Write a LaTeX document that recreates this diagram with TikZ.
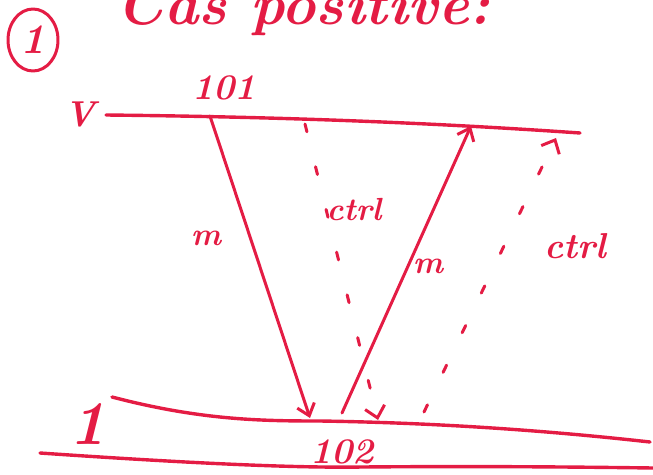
\documentclass[tikz,border=0pt]{standalone}
\usetikzlibrary{arrows.meta,shapes.geometric}
\definecolor{ink}{RGB}{228,28,68}
\begin{document}
\begin{tikzpicture}[x=1pt,y=-1pt, line cap=round, line join=round,
  pen/.style={draw=ink, line width=3.4pt},
  msg/.style={draw=ink, line width=3pt, -{Straight Barb[length=11pt,width=18pt,line width=3pt]}},
  ctrlarrow/.style={draw=ink, line width=3pt, dash pattern=on 8pt off 36pt, -{Straight Barb[length=11pt,width=20pt,line width=3pt]}},
  lbl/.style={text=ink, inner sep=0pt, font=\bfseries\itshape\fontsize{36}{36}\selectfont},
  small/.style={text=ink, inner sep=0pt, font=\bfseries\itshape\fontsize{32}{32}\selectfont}]
\useasboundingbox (0,0) rectangle (653,474);
\clip (0,0) rectangle (653,474);
% title (cut at top, as in the reference)
\node[text=ink, anchor=base west, inner sep=0pt, font=\bfseries\itshape\fontsize{58}{58}\selectfont] (title) at (116,24) {Cas positive:};
% circled 1
\node[draw=ink, line width=3pt, ellipse, minimum width=50pt, minimum height=62pt, inner sep=0pt, text=ink, font=\bfseries\itshape\fontsize{42}{42}\selectfont] (num) at (33,40) {1};
% lines
\coordinate (tl) at (106,115);
\coordinate (tr) at (580,133);
\draw[pen] (tl) .. controls (300,117) and (450,124) .. (tr);
\coordinate (b1l) at (112,397);
\coordinate (b1r) at (650,442);
\draw[pen] (b1l) .. controls (200,420) and (260,421) .. (320,421) .. controls (450,423) and (560,432) .. (b1r);
\coordinate (b2l) at (40,453);
\coordinate (b2r) at (653,468);
\draw[pen] (b2l) .. controls (200,464) and (300,468) .. (362,467) .. controls (480,466) and (580,467) .. (b2r);
% labels
\node[lbl] (V) at (80,114) {V};
\node[lbl, font=\bfseries\itshape\fontsize{62}{62}\selectfont] (one) at (88,424) {1};
\node[lbl] (p1) at (224,88) {101};
\node[lbl] (p2) at (342,452) {102};
% endpoints
\coordinate (a1) at (210,116);
\coordinate (a2) at (310,418);
\coordinate (c1) at (342,413);
\coordinate (c2) at (471,126);
\coordinate (d1) at (305,124);
\coordinate (d2) at (378,420);
\coordinate (e1) at (424,412);
\coordinate (e2) at (556,138);
\draw[msg] (a1) -- (a2);
\draw[msg] (c1) -- (c2);
\draw[ctrlarrow] (d1) -- (d2);
\draw[ctrlarrow] (e1) -- (e2);
\node[small] (m1) at (206,238) {m};
\node[small] (m2) at (428,266) {m};
\node[small] (k1) at (354,210) {ctrl};
\node[small, font=\bfseries\itshape\fontsize{36}{36}\selectfont] (k2) at (575,246) {ctrl};
\end{tikzpicture}
\end{document}
